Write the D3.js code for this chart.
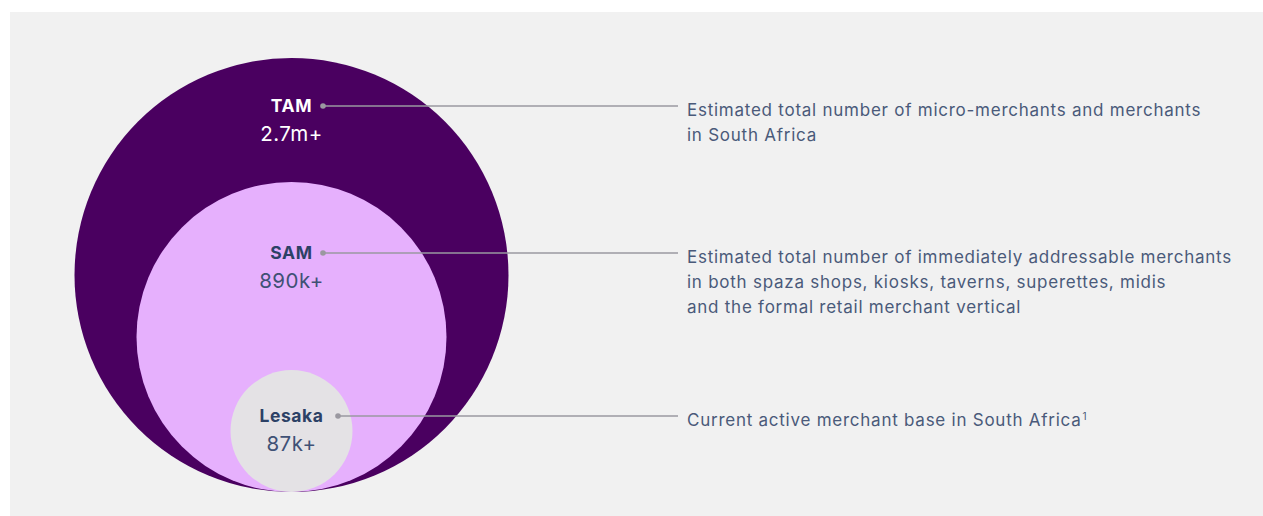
<!DOCTYPE html>
<html>
<head>
<meta charset="utf-8">
<script src="https://cdn.jsdelivr.net/npm/d3@7"></script>
<style>
  html, body { margin: 0; padding: 0; background: #ffffff; }
  svg { display: block; }
</style>
</head>
<body>
<svg id="chart" width="1263" height="516"></svg>
<script>
// ---- data ----
const categories = ["TAM", "SAM", "Lesaka"];
const values = [2700000, 890000, 87000];
const valueLabels = ["2.7m+", "890k+", "87k+"];
const descriptions = [
  ["Estimated total number of micro-merchants and merchants", "in South Africa"],
  ["Estimated total number of immediately addressable merchants", "in both spaza shops, kiosks, taverns, superettes, midis", "and the formal retail merchant vertical"],
  ["Current active merchant base in South Africa"]
];
const footnotes = ["", "", "1"];

// ---- styles ----
const fills = ["#4a0060", "#e6b0fd", "#e4e2e5"];
const labelColors = ["#ffffff", "#2c4166", "#2c4166"];
const valueColors = ["#ffffff", "#3f5175", "#3f5175"];

const svg = d3.select("#chart");
const W = 1263, H = 516;

svg.append("rect").attr("x", 10).attr("y", 12).attr("width", W - 10).attr("height", H - 12).attr("fill", "#f1f1f1");

// radius scale (value -> px), bottom-tangent nested circles
const rScale = d3.scaleLinear().domain([87000, 890000, 2700000]).range([61, 155, 217]);
const cx = 291.5, baseY = 492;

const g = svg.append("g");
categories.forEach((c, i) => {
  const r = rScale(values[i]);
  g.append("circle").attr("cx", cx).attr("cy", baseY - r).attr("r", r).attr("fill", fills[i]);
});

const labelY = categories.map((c, i) => baseY - 2 * rScale(values[i]) + [48, 71, 46][i]);
const dotX = [323, 323, 338];
const lineEnd = 678;
const textX = 687;
const font = "Inter, 'Noto Sans', sans-serif";

categories.forEach((c, i) => {
  const y = labelY[i];
  g.append("text").attr("x", cx).attr("y", y + 6).attr("text-anchor", "middle")
    .attr("font-family", font).attr("font-weight", 700).attr("font-size", 17.5).attr("letter-spacing", 0.6)
    .attr("fill", labelColors[i]).text(c);
  g.append("text").attr("x", cx).attr("y", y + 35).attr("text-anchor", "middle")
    .attr("font-family", font).attr("font-weight", 400).attr("font-size", 20.5).attr("letter-spacing", 0.5)
    .attr("fill", valueColors[i]).text(valueLabels[i]);
  g.append("line").attr("x1", dotX[i]).attr("x2", lineEnd).attr("y1", y).attr("y2", y)
    .attr("stroke", "#9a98a0").attr("stroke-width", 1.3);
  g.append("circle").attr("cx", dotX[i]).attr("cy", y).attr("r", 2.8).attr("fill", "#9a98a0");
  const t = g.append("text").attr("font-family", font).attr("font-size", 17).attr("letter-spacing", 0.75)
    .attr("fill", "#4a5a7a");
  descriptions[i].forEach((line, j) => {
    t.append("tspan").attr("x", textX).attr("y", y + 10 + j * 25).text(line);
  });
  if (footnotes[i]) {
    t.append("tspan").attr("dx", 1).attr("dy", -6).attr("font-size", 10).attr("letter-spacing", 0).text(footnotes[i]);
  }
});
</script>
</body>
</html>
